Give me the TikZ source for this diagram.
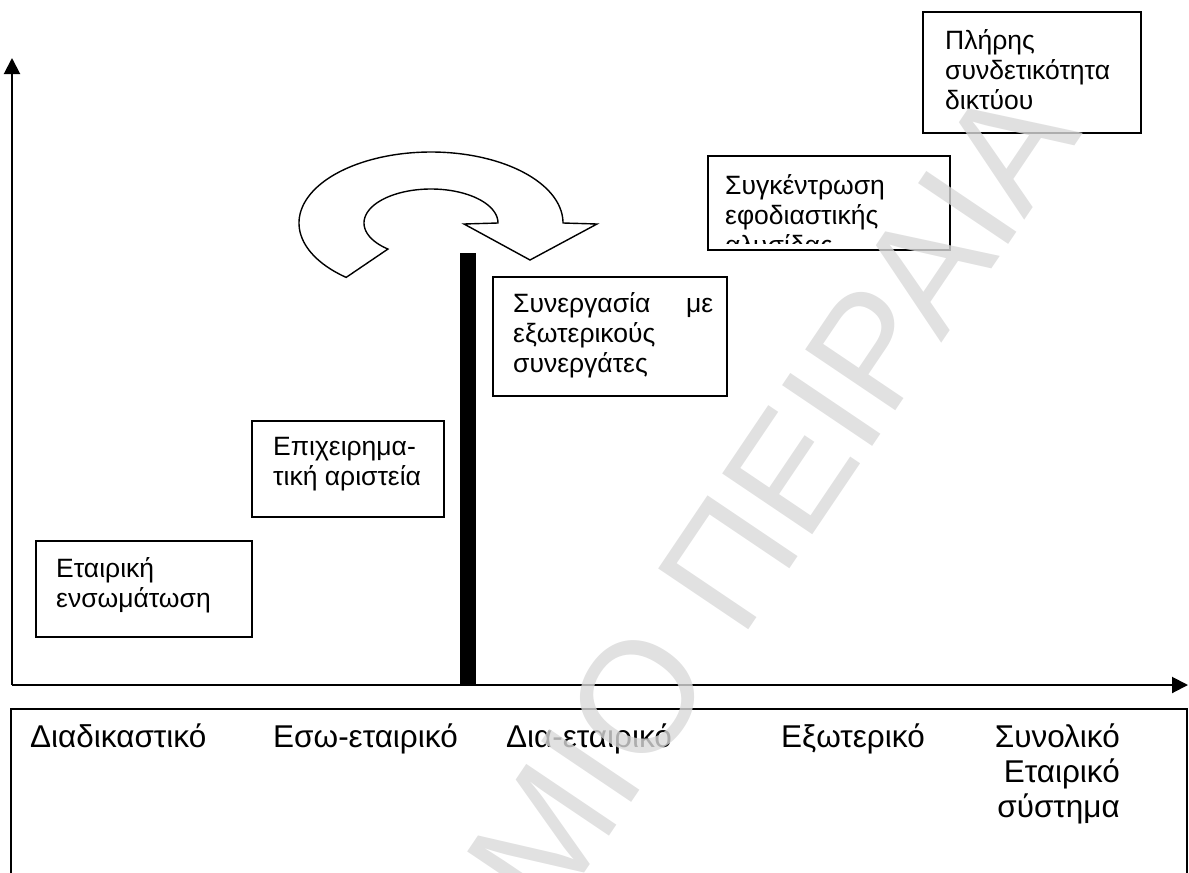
\documentclass[tikz,border=0pt]{standalone}
\usepackage{fontspec}
\setmainfont{Liberation Sans}
\usetikzlibrary{arrows.meta}
\begin{document}
\begin{tikzpicture}[x=1pt,y=-1pt,
  boxst/.style={draw=black, line width=1.6pt, fill=white, inner sep=0pt},
  btext/.style={anchor=base west, inner sep=0pt, font=\fontsize{26.5}{30}\selectfont},
  axtext/.style={anchor=base west, inner sep=0pt, font=\fontsize{31.5}{35}\selectfont},
  axisst/.style={line width=2pt, -{Triangle[length=16pt,width=16pt]}},
  arrowshape/.style={draw=black, line width=1.4pt, fill=white, line join=miter},
  wmark/.style={rotate=56, anchor=base west, inner sep=0pt, font=\fontsize{158}{158}\selectfont, text=black!15, text opacity=0.8}]
\useasboundingbox (0,0) rectangle (1189,873);
\clip (0,0) rectangle (1189,873);

% axes
\coordinate (O) at (12,685);
\coordinate (ytip) at (12,58);
\coordinate (xtip) at (1188,685);
\draw[axisst] (O) -- (ytip);
\draw[axisst] (O) -- (xtip);

% bottom frame
\draw[line width=1.6pt] (11,900) -- (11,709) -- (1187,709) -- (1187,900);
\node[axtext] (l1) at (30,747) {Διαδικαστικό};
\node[axtext] (l2) at (273,747) {Εσω-εταιρικό};
\node[axtext] (l3) at (506,747) {Δια-εταιρικό};
\node[axtext] (l4) at (781,747) {Εξωτερικό};
\node[axtext, anchor=base east] (l5) at (1120,747) {\begin{tabular}[t]{@{}r@{}}Συνολικό\\ Εταιρικό\\ σύστημα\end{tabular}};

% thick bar
\fill[black] (460,253) rectangle (476,685);

% curved arrow
\draw[arrowshape] (563,223) -- (597,224) -- (530,260) -- (464,224) -- (498,223)
  -- plot[domain=0:-230, samples=90] ({431+67*cos(\x)},{223+34*sin(\x)})
  -- plot[domain=-230:0, samples=140] ({431+132*cos(\x)},{223+71*sin(\x)}) -- cycle;

% boxes
\node[boxst, minimum width=218pt, minimum height=121pt] (b1) at (1032,72.5) {};
\node[btext] (t1) at (945,49) {\begin{tabular}[t]{@{}l@{}}Πλήρης\\ συνδετικότητα\\ δικτύου\end{tabular}};

\node[boxst, minimum width=242pt, minimum height=94pt] (b2) at (829,203) {};
\begin{scope}
\clip (708,156) rectangle (950,243);
\node[btext] (t2) at (725,194) {\begin{tabular}[t]{@{}l@{}}Συγκέντρωση\\ εφοδιαστικής\\ αλυσίδας\end{tabular}};
\end{scope}

\node[boxst, minimum width=234pt, minimum height=119pt] (b3) at (610,336.5) {};
\node[btext] (t3) at (513,312) {\begin{tabular}[t]{@{}l@{}}\hbox to 200pt{Συνεργασία\hfill με}\\ εξωτερικούς\\ συνεργάτες\end{tabular}};

\node[boxst, minimum width=192pt, minimum height=96pt] (b4) at (348,469) {};
\node[btext] (t4) at (273,455) {\begin{tabular}[t]{@{}l@{}}Επιχειρημα-\\ τική αριστεία\end{tabular}};

\node[boxst, minimum width=216pt, minimum height=96pt] (b5) at (144,589) {};
\node[btext] (t5) at (56,577) {\begin{tabular}[t]{@{}l@{}}Εταιρική\\ ενσωμάτωση\end{tabular}};

% watermark
\node[wmark] (wm) at (550,924) {ΜΙΟ ΠΕΙΡΑΙΑ};
\end{tikzpicture}
\end{document}
